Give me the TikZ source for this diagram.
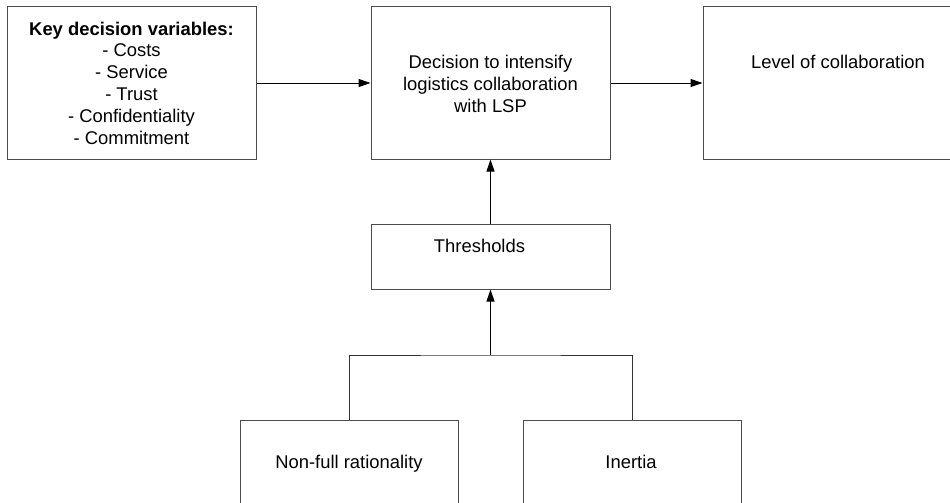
\documentclass[tikz,border=0pt]{standalone}
\usepackage{fontspec}
\setmainfont{Liberation Sans}
\usetikzlibrary{arrows.meta}
\begin{document}
\begin{tikzpicture}[x=1pt,y=-1pt,
  box/.style={draw=black!70, line width=1pt, inner sep=0pt},
  txt/.style={inner sep=0pt, align=center, font=\fontsize{18.4}{21.8}\selectfont},
  line/.style={txt, anchor=base},
  link/.style={draw=black!80, line width=1pt},
  arrow/.style={draw=black, line width=1pt, -{Triangle[length=12pt,width=8pt]}}]
\useasboundingbox (0,0) rectangle (950,503);
\begin{scope}
\clip (0,0) rectangle (950,503);
% boxes
\node[box, minimum width=249pt, minimum height=152pt] (key) at (131.5,83) {};
\node[box, minimum width=239pt, minimum height=152pt] (dec) at (490.5,83) {};
\node[box, minimum width=267pt, minimum height=152pt] (lvl) at (836.5,83) {};
\node[box, minimum width=239pt, minimum height=65pt] (thr) at (490.5,256.5) {};
\node[box, minimum width=218pt, minimum height=120pt] (nfr) at (349,480) {};
\node[box, minimum width=218pt, minimum height=120pt] (ine) at (632,480) {};
% texts
\node[txt] (keytxt) at (131.5,83) {\textbf{Key decision variables:}\\- Costs\\- Service\\- Trust\\- Confidentiality\\- Commitment};
\node[txt] (dectxt) at (490.5,84) {Decision to intensify\\logistics collaboration\\with LSP};
\node[line] (lvltxt) at (838,68.5) {Level of collaboration};
\node[line] (thrtxt) at (479.5,252) {Thresholds};
\node[line] (nfrtxt) at (349,468.5) {Non-full rationality};
\node[line] (inetxt) at (631,468.5) {Inertia};
% connectors
\coordinate (join) at (490.5,355);
\draw[arrow] (key.east) -- (dec.west);
\draw[arrow] (dec.east) -- (lvl.west);
\draw[arrow] (thr.north) -- (dec.south);
\draw[link] (nfr.north) |- (join) -| (ine.north);
\draw[arrow] (join) -- (thr.south);
\end{scope}
\end{tikzpicture}
\end{document}
